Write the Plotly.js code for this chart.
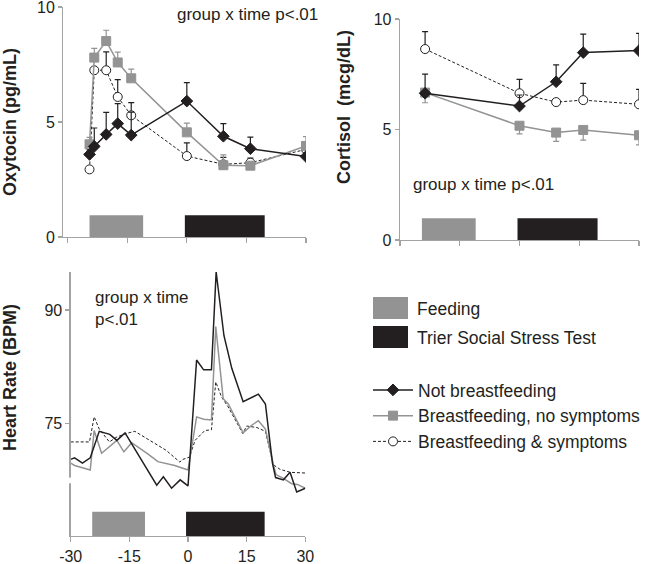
<!DOCTYPE html>
<html><head><meta charset="utf-8">
<script src="https://cdn.plot.ly/plotly-3.0.1.min.js"></script>
<style>body{margin:0;background:#fff}#chart{width:646px;height:564px}</style>
</head><body><div id="chart"></div>
<script>
// ---------- DATA ----------
const seriesNames = ["Not breastfeeding", "Breastfeeding, no symptoms", "Breastfeeding & symptoms"];
const periodNames = ["Feeding", "Trier Social Stress Test"];
const feedingPeriod = [-24.5, -11];
const tsstPeriod = [-0.5, 19.6];

// Oxytocin (pg/mL)
const oxyTimes = [-24.5, -23.3, -20.3, -17.4, -14, 0, 9.2, 16, 30];
const oxyNotBF = [3.59, 3.94, 4.46, 4.93, 4.43, 5.91, 4.38, 3.84, 3.50];
const oxyNotBFErr = [0.2, 0.8, 0.96, 0.87, 1.0, 0.8, 0.55, 0.5, 0.15];
const oxyBFNo = [4.03, 7.80, 8.52, 7.59, 6.90, 4.55, 3.12, 3.10, 3.96];
const oxyBFNoErr = [0.3, 0.4, 0.47, 0.45, 0.4, 0.4, 0.45, 0.15, 0.4];
const oxyBFSym = [2.94, 7.25, 7.25, 6.09, 5.29, 3.52, 3.16, 3.23, 3.81];
const oxyBFSymErr = [0, 0, 0.8, 0.75, 0.55, 0.57, 0.3, 0.2, 0.3];

// Cortisol (mcg/dL)
const cortTimes = [-23.7, 0, 9.2, 16, 30];
const cortNotBF = [6.64, 6.06, 7.16, 8.48, 8.57];
const cortNotBFErr = [0.87, 0.5, 0.76, 0.84, 0.78];
const cortBFNo = [6.67, 5.17, 4.86, 4.98, 4.74];
const cortBFNoErrDown = [0.46, 0.37, 0.4, 0.46, 0.44];
const cortBFSym = [8.64, 6.64, 6.24, 6.33, 6.14];
const cortBFSymErr = [0.79, 0.63, 0, 0.76, 0.68];

// Heart rate (BPM)
const hrTimesNotBF = [-30, -29, -27, -25, -22.7, -20, -18.2, -16.1, -8, -6.3, -4.2, -2, 0, 2.2, 4, 6, 7.2, 9.2, 11.2, 14.1, 18, 19.8, 21.6, 22.4, 24.4, 26.1, 27.8, 30];
const hrNotBF =      [70.3, 70.5, 69.8, 70.5, 74.0, 73.6, 72.8, 73.8, 66.9, 68.0, 66.5, 67.6, 66.8, 83.4, 82.1, 82.1, 95.0, 86.6, 82.3, 77.9, 78.9, 77.6, 69.8, 67.9, 67.6, 68.6, 66.0, 66.5];
const hrTimesBFNo = [-30, -29, -25, -24, -22.1, -18.2, -16.4, -14.4, -10.2, -7.7, -3.4, 0, 2.2, 4, 6, 7.1, 9, 10.3, 14.1, 16.3, 18, 19.8, 21.8, 22.5, 24.4, 26.5, 28, 30];
const hrBFNo =      [69.8, 69.5, 68.9, 74.1, 71.1, 72.8, 71.3, 72.5, 71.0, 70.0, 69.5, 68.9, 75.9, 75.6, 75.5, 87.8, 78.3, 77.6, 73.8, 74.8, 75.4, 74.3, 69.7, 68.3, 67.8, 67.1, 67.0, 66.5];
const hrTimesBFSym = [-30, -25.2, -24, -22.7, -20.1, -18.4, -15.9, -13.6, -5.6, -2.1, -1.3, 0.4, 1.8, 4.3, 6, 7.1, 8.6, 10.3, 14, 15, 17.6, 19.8, 21.8, 23.5, 26.1, 30];
const hrBFSym =      [72.6, 72.6, 75.9, 74.3, 72.6, 73.2, 73.7, 74.0, 71.5, 69.95, 70.3, 70.6, 72.8, 74.1, 74.2, 80.5, 78.5, 77.2, 73.7, 74.7, 74.5, 74.0, 69.6, 69.0, 68.6, 68.5];

// ---------- STYLE ----------
const FONT = "Liberation Sans, Arial, sans-serif";
const TXT = "#231f20";
const AX = "#a3a3a3";
const BLACK = "#231f20";
const GRAY = "#939393";

function zeros(n){ return new Array(n).fill(0); }

const styles = [
  {color: BLACK, symbol: "diamond", fill: BLACK, dash: "solid", width: 1.5, rank: 1},
  {color: GRAY, symbol: "square", fill: GRAY, dash: "solid", width: 1.5, rank: 2},
  {color: BLACK, symbol: "circle", fill: "#ffffff", dash: "3px,2px", width: 1, rank: 3}
];

function pointTrace(i, x, y, up, down, xa, ya, legend){
  const s = styles[i];
  return {
    type: "scatter", mode: "lines+markers", x: x, y: y, xaxis: xa, yaxis: ya,
    name: seriesNames[i], showlegend: legend, legendrank: s.rank,
    line: {color: s.color, width: s.width, dash: s.dash},
    marker: {symbol: s.symbol, size: 9, color: s.fill, line: {color: s.color, width: 1}},
    error_y: {type: "data", symmetric: false, array: up, arrayminus: down, color: s.color, thickness: 1.2, width: 3},
    hoverinfo: "skip"
  };
}
function lineTrace(i, x, y){
  const s = styles[i];
  return {type: "scatter", mode: "lines", x: x, y: y, xaxis: "x3", yaxis: "y3", showlegend: false,
    line: {color: s.color, width: s.width, dash: s.dash}, hoverinfo: "skip"};
}

const traces = [
  // oxytocin
  pointTrace(2, oxyTimes, oxyBFSym, oxyBFSymErr, zeros(oxyTimes.length), "x", "y", true),
  pointTrace(1, oxyTimes, oxyBFNo, oxyBFNoErr, zeros(oxyTimes.length), "x", "y", true),
  pointTrace(0, oxyTimes, oxyNotBF, oxyNotBFErr, zeros(oxyTimes.length), "x", "y", true),
  // cortisol
  pointTrace(2, cortTimes, cortBFSym, cortBFSymErr, zeros(cortTimes.length), "x2", "y2", false),
  pointTrace(1, cortTimes, cortBFNo, zeros(cortTimes.length), cortBFNoErrDown, "x2", "y2", false),
  pointTrace(0, cortTimes, cortNotBF, cortNotBFErr, zeros(cortTimes.length), "x2", "y2", false),
  // heart rate
  lineTrace(2, hrTimesBFSym, hrBFSym),
  lineTrace(1, hrTimesBFNo, hrBFNo),
  lineTrace(0, hrTimesNotBF, hrNotBF)
];

const W = 646, H = 564;
const px = v => v / W;
const py = v => 1 - v / H;

function xax(domain, range, labels){
  return {domain: domain, range: range, showgrid: false, zeroline: false, showline: true, linecolor: AX, linewidth: 1.3,
    ticks: "outside", ticklen: 5, tickcolor: AX, tickwidth: 1.3, tickmode: "array", tickvals: [-30, -15, 0, 15, 30],
    ticktext: ["-30", "-15", "0", "15", "30"], showticklabels: labels, ticklabeloverflow: "allow",
    tickfont: {family: FONT, size: 16, color: TXT}, fixedrange: true};
}
function yax(domain, range, vals, anchor){
  return {domain: domain, range: range, anchor: anchor, showgrid: false, zeroline: false, showline: true, linecolor: AX, linewidth: 1.3,
    ticks: "outside", ticklen: 4, tickcolor: AX, tickwidth: 1.3, tickmode: "array", tickvals: vals, ticklabeloverflow: "allow",
    tickfont: {family: FONT, size: 16, color: TXT}, fixedrange: true};
}

function periodShapes(xr, yr, y0, y1){
  return [
    {type: "rect", xref: xr, yref: yr, x0: feedingPeriod[0], x1: feedingPeriod[1], y0: y0, y1: y1, fillcolor: GRAY, line: {width: 0}, layer: "below"},
    {type: "rect", xref: xr, yref: yr, x0: tsstPeriod[0], x1: tsstPeriod[1], y0: y0, y1: y1, fillcolor: BLACK, line: {width: 0}, layer: "below"}
  ];
}

const shapes = [].concat(
  periodShapes("x", "y", 0, 0.95),
  periodShapes("x2", "y2", 0, 0.98),
  periodShapes("x3", "y3", 60.2, 63.4),
  [
    // axis break on heart-rate y axis
    {type: "rect", xref: "paper", yref: "y3", x0: px(66), x1: px(75), y0: 67.15, y1: 67.9, fillcolor: "#ffffff", line: {width: 0}, layer: "above"},
    // legend boxes
    {type: "rect", xref: "paper", yref: "paper", x0: px(373), x1: px(408), y0: py(319), y1: py(297), fillcolor: GRAY, line: {width: 0}},
    {type: "rect", xref: "paper", yref: "paper", x0: px(373), x1: px(408), y0: py(348), y1: py(326), fillcolor: BLACK, line: {width: 0}}
  ]
);

function ann(text, x, y, opts){
  return Object.assign({text: text, xref: "paper", yref: "paper", x: px(x), y: py(y), showarrow: false,
    xanchor: "left", yanchor: "middle", font: {family: FONT, size: 17, color: TXT}}, opts || {});
}

const annotations = [
  ann("<b>Oxytocin (pg/mL)</b>", 10, 122, {xanchor: "center", textangle: -90, font: {family: FONT, size: 18, color: TXT}}),
  ann("<b>Cortisol  (mcg/dL)</b>", 344, 107, {xanchor: "center", textangle: -90, font: {family: FONT, size: 18, color: TXT}}),
  ann("<b>Heart Rate (BPM)</b>", 10, 378, {xanchor: "center", textangle: -90, font: {family: FONT, size: 18, color: TXT}}),
  ann("group x time p&lt;.01", 175, 15),
  ann("group x time p&lt;.01", 411, 184),
  ann("group x time<br>p&lt;.01", 93, 308, {align: "left"}),
  ann(periodNames[0], 415, 309, {font: {family: FONT, size: 17.5, color: TXT}}),
  ann(periodNames[1], 415, 338, {font: {family: FONT, size: 17.5, color: TXT}})
];

const layout = {
  width: W, height: H, margin: {l: 0, r: 0, t: 0, b: 0},
  paper_bgcolor: "#ffffff", plot_bgcolor: "rgba(0,0,0,0)",
  font: {family: FONT, color: TXT},
  xaxis: xax([px(63.3), px(306)], [-31.1, 30], false),
  yaxis: yax([py(237), py(7)], [0, 10], [0, 5, 10], "x"),
  xaxis2: Object.assign(xax([px(400), px(639)], [-30, 30], false), {anchor: "y2"}),
  yaxis2: yax([py(240), py(19)], [0, 10], [0, 5, 10], "x2"),
  xaxis3: Object.assign(xax([px(70.7), px(305.3)], [-30, 30], true), {anchor: "y3"}),
  yaxis3: yax([py(536), py(272)], [60.2, 95], [75, 90], "x3"),
  shapes: shapes,
  annotations: annotations,
  showlegend: true,
  legend: {x: px(368), y: py(372), xanchor: "left", yanchor: "top", bgcolor: "rgba(0,0,0,0)", borderwidth: 0,
    font: {family: FONT, size: 17.5, color: TXT}, traceorder: "normal", tracegroupgap: 0, itemwidth: 40}
};
layout.xaxis.anchor = "y";

Plotly.newPlot("chart", traces, layout, {displayModeBar: false, staticPlot: true});
</script>
</body></html>
